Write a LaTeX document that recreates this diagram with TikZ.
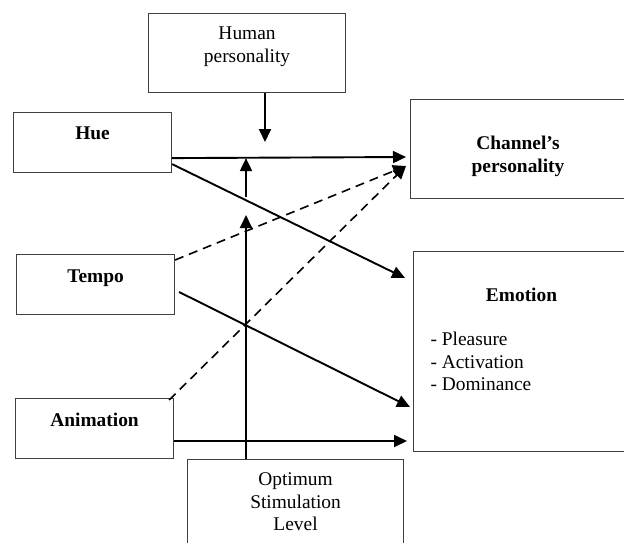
\documentclass[tikz,border=0pt]{standalone}
\usepackage{fontspec}
\setmainfont{Liberation Serif}
\usetikzlibrary{arrows.meta}

\begin{document}
\begin{tikzpicture}[x=1pt,y=-1pt]
  \tikzset{box/.style = {draw=black!75,line width=1.1pt,inner sep=0pt,anchor=north west,
      font=\fontsize{19.4}{22.5}\selectfont}}
  \tikzset{arrow/.style = {-{Triangle[length=13pt,width=12pt]},line width=1.9pt}}
  \tikzset{dasharrow/.style = {arrow,line width=1.6pt,dash pattern=on 9pt off 6pt}}

  \useasboundingbox (0,0) rectangle (624,542);
  \clip (0,0) rectangle (624,542);

	\node[box] (human) at (148,13) {\parbox[c][79pt][t]{197pt}{\centering\rule{0pt}{26pt}Human\\personality}};
	\node[box] (hue) at (13,112) {\parbox[c][60pt][t]{158pt}{\centering\rule{0pt}{27pt}\textbf{Hue}}};
	\node[box] (tempo) at (16,254) {\parbox[c][60pt][t]{158pt}{\centering\rule{0pt}{28pt}\textbf{Tempo}}};
	\node[box] (anim) at (15,398) {\parbox[c][60pt][t]{158pt}{\centering\rule{0pt}{28pt}\textbf{Animation}}};
	\node[box] (chan) at (410,99) {\parbox[c][99pt][t]{215pt}{\centering\rule{0pt}{50pt}\textbf{Channel’s}\\\textbf{personality}}};
	\node[box] (emo) at (413,251) {\parbox[c][200pt][t]{216pt}{{\centering\rule{0pt}{50pt}\textbf{Emotion}\par}\vspace{21.5pt}%
	    \raggedright\leftskip=17pt - Pleasure\\- Activation\\- Dominance}};
	\node[box] (osl) at (187,459) {\parbox[c][100pt][t]{216pt}{\centering\rule{0pt}{26pt}Optimum\\Stimulation\\Level}};

	% end points of the connectors
	\coordinate (hueA) at ([yshift=15pt]hue.south east);
	\coordinate (hueB) at ([yshift=9pt]hue.south east);
	\coordinate (tempoA) at ([yshift=-6pt]tempo.north east);
	\coordinate (tempoB) at ([xshift=4pt,yshift=-38pt]tempo.north east);
	\coordinate (animA) at ([xshift=-5pt,yshift=-2pt]anim.north east);
	\coordinate (animB) at ([yshift=-43pt]anim.north east);
	\coordinate (chanA) at ([xshift=-4pt,yshift=-58pt]chan.north west);
	\coordinate (chanB) at ([xshift=-4pt,yshift=-67pt]chan.north west);
	\coordinate (emoA) at ([xshift=-8pt,yshift=-27pt]emo.north west);
	\coordinate (emoB) at ([xshift=-3pt,yshift=-156pt]emo.north west);
	\coordinate (emoC) at ([xshift=-6pt,yshift=-190pt]emo.north west);
	\coordinate (hpEnd) at (265,142);
	\coordinate (oslEnd) at (246,215);
	\coordinate (oslGap) at (246,197);

       \foreach \from/\to in {hueA/chanA, hueB/emoA, tempoB/emoB, animB/emoC}
    \draw[arrow] (\from) -- (\to);
       \foreach \from/\to in {tempoA/chanB, animA/chanB}
    \draw[dasharrow] (\from) -- (\to);

	\draw[arrow] (human.south -| hpEnd) -- (hpEnd);
	\draw[arrow] (osl.north -| oslEnd) -- (oslEnd);
	\draw[arrow] (oslGap) -- (oslGap |- hueA);

\end{tikzpicture}
\end{document}
